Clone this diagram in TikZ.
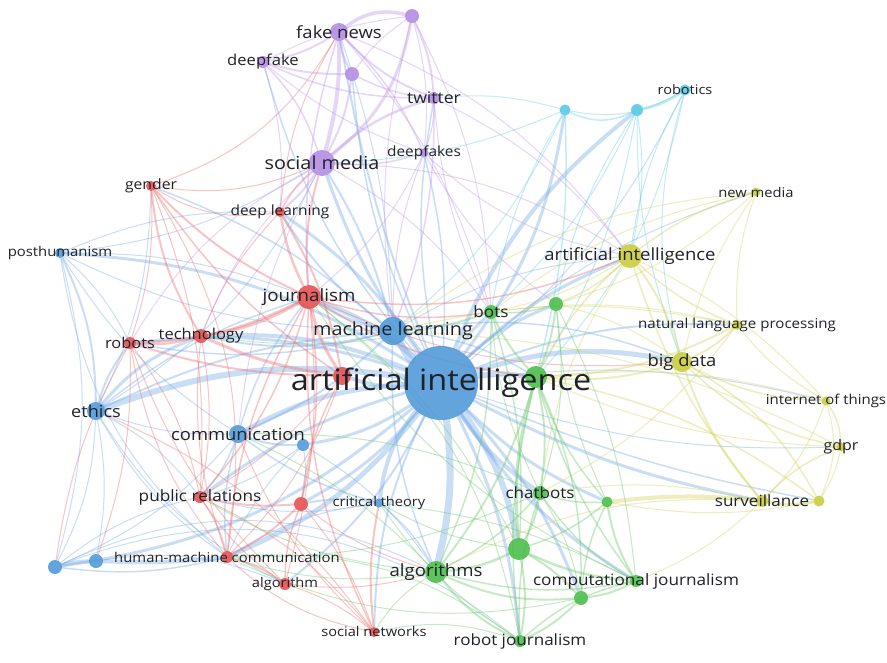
\documentclass[tikz,border=0pt]{standalone}
\usepackage{fontspec}
\setmainfont{Open Sans}[FakeStretch=1.1]
\usetikzlibrary{backgrounds}

\definecolor{nblue}{RGB}{78,152,216}
\definecolor{nred}{RGB}{228,78,78}
\definecolor{ngreen}{RGB}{72,188,72}
\definecolor{nyellow}{RGB}{200,204,56}
\definecolor{npurple}{RGB}{178,138,226}
\definecolor{ncyan}{RGB}{84,200,226}
\definecolor{eblue}{RGB}{120,172,232}
\definecolor{ered}{RGB}{236,112,112}
\definecolor{egreen}{RGB}{112,202,112}
\definecolor{eyellow}{RGB}{212,212,92}
\definecolor{epurple}{RGB}{192,152,234}
\definecolor{ecyan}{RGB}{104,206,232}
\definecolor{ntext}{RGB}{32,34,40}

\begin{document}
\begin{tikzpicture}[x=1pt, y=-1pt,
    dot/.style={circle, inner sep=0pt, minimum size=#1, fill opacity=.88},
    bdot/.style={dot=#1, fill=nblue},
    rdot/.style={dot=#1, fill=nred},
    gdot/.style={dot=#1, fill=ngreen},
    ydot/.style={dot=#1, fill=nyellow},
    pdot/.style={dot=#1, fill=npurple},
    cdot/.style={dot=#1, fill=ncyan},
    lab/.style={text=ntext, inner sep=0pt, font=\fontsize{#1}{#1}\selectfont},
    edge/.style={opacity=.4, line cap=round},
    eb/.style={edge, draw=eblue},
    er/.style={edge, draw=ered},
    eg/.style={edge, draw=egreen},
    ey/.style={edge, draw=eyellow},
    ep/.style={edge, draw=epurple},
    ec/.style={edge, draw=ecyan}
]
    \useasboundingbox (0,0) rectangle (887,662);

    % clusters
    \node[bdot=74pt] (ai) at (441,383) {};
    \node[bdot=28pt] (ml) at (393,331) {};
    \node[bdot=18pt] (ethics) at (96,411) {};
    \node[bdot=18pt] (comm) at (238,434) {};
    \node[bdot=12pt] (bA) at (303,445) {};
    \node[bdot=9pt] (crit) at (379,503) {};
    \node[bdot=10pt] (posthum) at (60,253) {};
    \node[bdot=14pt] (bB) at (55,567) {};
    \node[bdot=14pt] (bC) at (96,561) {};

    \node[rdot=24pt] (journ) at (309,297) {};
    \node[rdot=10pt] (deepl) at (280,212) {};
    \node[rdot=10pt] (gender) at (151,186) {};
    \node[rdot=14pt] (tech) at (201,336) {};
    \node[rdot=12pt] (robots) at (130,343) {};
    \node[rdot=18pt] (rA) at (342,376) {};
    \node[rdot=12pt] (pr) at (200,497) {};
    \node[rdot=14pt] (rB) at (301,504) {};
    \node[rdot=12pt] (hmc) at (227,557) {};
    \node[rdot=12pt] (algorithm) at (285,584) {};
    \node[rdot=10pt] (socnet) at (374,632) {};

    \node[pdot=18pt] (fake) at (339,32) {};
    \node[pdot=14pt] (pA) at (412,16) {};
    \node[pdot=12pt] (deepfake) at (263,62) {};
    \node[pdot=14pt] (pB) at (352,74) {};
    \node[pdot=12pt] (twitter) at (434,98) {};
    \node[pdot=26pt] (social) at (322,163) {};
    \node[pdot=9pt] (deepfakes) at (424,153) {};

    \node[cdot=11pt] (cA) at (565,110) {};
    \node[cdot=12pt] (cB) at (637,110) {};
    \node[cdot=11pt] (robotics) at (685,90) {};

    \node[ydot=9pt] (newmedia) at (756,192) {};
    \node[ydot=24pt] (aiy) at (630,256) {};
    \node[ydot=10pt] (nlp) at (737,325) {};
    \node[ydot=20pt] (bigdata) at (682,362) {};
    \node[ydot=9pt] (iot) at (826,401) {};
    \node[ydot=9pt] (gdpr) at (841,447) {};
    \node[ydot=12pt] (surv) at (762,501) {};
    \node[ydot=11pt] (yB) at (819,501) {};

    \node[gdot=14pt] (bots) at (491,312) {};
    \node[gdot=14pt] (gA) at (556,304) {};
    \node[gdot=22pt] (gC) at (536,377) {};
    \node[gdot=14pt] (chatbots) at (540,493) {};
    \node[gdot=11pt] (gD) at (607,502) {};
    \node[gdot=22pt] (gE) at (519,549) {};
    \node[gdot=22pt] (algorithms) at (436,572) {};
    \node[gdot=12pt] (compj) at (636,581) {};
    \node[gdot=14pt] (gF) at (581,598) {};
    \node[gdot=12pt] (robotj) at (520,641) {};

    % links
    \begin{scope}[on background layer]
    \fill[white] (0,0) rectangle (887,662);
    \foreach \a/\b/\w/\s in {ai/ml/7/10, ai/ethics/6/-14, ai/comm/5/-12, ai/hmc/5/14, ai/crit/4/-15,
        ai/algorithms/7/10, ai/gE/6/12, ai/robotj/3/10, ai/bB/3/16, ai/posthum/3/-14, ai/social/3/8,
        ai/fake/2/6, ai/bigdata/5/14, ai/surv/3/-8, ai/compj/3/-12, ai/bots/3/8, ai/gA/3/10, ai/gC/5/8,
        ai/chatbots/4/-10, ai/gD/3/-10, ai/gF/3/10, ai/aiy/3/10, ai/journ/5/-10, ai/rA/4/10,
        ai/tech/4/-12, ai/robots/3/-12, ai/pr/3/-10, ai/rB/3/10, ai/algorithm/2/12, ai/socnet/2/-12,
        ai/deepl/3/-10, ai/gender/1.5/-12, ai/cA/3/-14, ai/cB/4/14, ai/twitter/1.5/10,
        ai/deepfakes/1.5/-8, ai/pB/1.5/10, ai/deepfake/1.5/12, ai/nlp/2/12, ai/iot/1/10, ai/gdpr/1/-10,
        ai/newmedia/1/12, ai/robotics/1/-12, ai/bA/3/12, ai/yB/1.5/-6,
        ml/journ/3/10, ml/social/2/-8, ml/deepl/2/10, ml/tech/2/12, ml/ethics/2/-10, ml/comm/2/10,
        ml/gC/1.5/12, ml/bigdata/1.5/14, ml/aiy/1/12, ml/robots/1.5/12, ml/algorithms/1.5/-12,
        ml/fake/1/-8, ml/posthum/1/12,
        ethics/robots/2/10, ethics/tech/3/14, ethics/comm/1/-10, ethics/bB/1/12, ethics/bC/1/10,
        ethics/hmc/1/-12, ethics/pr/1/12, ethics/algorithm/1/-15, ethics/journ/1.5/10,
        ethics/social/1/-15, ethics/gender/1/-12,
        comm/bA/2/-10, comm/pr/1.5/10, comm/hmc/1.5/-10, comm/journ/1.5/10,
        comm/bB/1/12, bA/rB/1/10, bA/hmc/1/-10, bA/pr/1/10, bA/algorithms/1/12,
        posthum/ethics/2/12, posthum/robots/1/10, posthum/comm/1/-12,
        posthum/social/1/-12, posthum/deepl/1/12, posthum/hmc/1/-20, posthum/bB/1/15, posthum/journ/1/10,
        bB/bC/4/6, bC/hmc/4/-4, bB/hmc/1.5/-10, bB/pr/1/12, bC/algorithm/1/15,
        bB/algorithms/1/25, bB/robotj/1/30, crit/algorithms/1.5/10, crit/rB/2/-10, crit/comm/1.5/10,
        crit/hmc/1/-12, crit/pr/1/12}
        \draw[eb, line width=\w] (\a) to[bend left=\s] (\b);
    \foreach \a/\b/\w/\s in {journ/deepl/2.5/8, journ/gender/2/10, journ/tech/3/10, journ/robots/2.5/12,
        journ/rA/3/-10, journ/pr/1.5/12, journ/hmc/1.5/-12, journ/algorithm/1/10, journ/socnet/1.5/-14,
        journ/rB/1.5/10, journ/social/2/10, journ/bots/1.5/-12, journ/gC/1.5/-12, journ/aiy/1.5/-14,
        journ/bigdata/1/-14, gender/tech/2/-12, gender/robots/1/10, gender/hmc/1/20, gender/social/1/-15,
        gender/deepl/1/-20, gender/rA/1.5/-10, gender/fake/1/-20, gender/pr/1/12,
        deepl/rA/2/10, deepl/tech/1/-10, deepl/social/1.5/10,
        deepl/fake/1/12, tech/robots/2/10, tech/rA/3/-8, tech/pr/1/10, tech/hmc/1/-12, robots/pr/1/12,
        robots/hmc/1/-14, robots/rA/2/-8, robots/algorithm/1/-12, robots/bB/1/-10, robots/bC/1/10,
        rA/pr/1/10, rA/rB/1.5/-10, rA/hmc/1/12, pr/rB/2/-8,
        pr/hmc/1.5/10, pr/algorithm/1/-10, pr/socnet/1/12, rB/hmc/2/8, rB/algorithm/1.5/-10,
        rB/socnet/1/10, rB/algorithms/1/-10, hmc/algorithm/2/10, hmc/socnet/1/-15,
        algorithm/socnet/1/10, algorithm/algorithms/1/-10, socnet/crit/2/8, socnet/comm/1/12,
        socnet/ethics/1/-15}
        \draw[er, line width=\w] (\a) to[bend left=\s] (\b);
    \foreach \a/\b/\w/\s in {fake/pA/3.5/25, fake/deepfake/2/10, fake/social/4/8, fake/pB/2/-10,
        fake/twitter/2/-12, fake/deepfakes/1.5/10, fake/journ/1.5/-10, fake/aiy/1/15, fake/bots/1/12,
        pA/social/3/20, pA/twitter/2/10, pA/ml/1/-10, pA/bots/1/12,
        pA/deepfakes/1/10, pA/pB/1/-10, pA/deepfake/1/-10, deepfake/pB/2/-8, deepfake/twitter/1.5/-12,
        deepfake/social/1.5/12, deepfake/deepfakes/1/-10, deepfake/deepl/1/10, pB/social/2/10,
        pB/twitter/1.5/-10, twitter/social/2.5/-12, twitter/deepfakes/1/10, twitter/bots/1/-10,
        twitter/ml/1.5/10, twitter/aiy/1/12, social/deepfakes/1.5/-10, social/deepl/2/8,
        social/tech/1/-12, social/robots/1/-15, social/aiy/1/15, social/bots/1/12, social/comm/1/-10,
        deepfakes/ml/1/-10, deepfakes/journ/1/12, deepfakes/gA/1/-12, deepfakes/aiy/1/-15}
        \draw[ep, line width=\w] (\a) to[bend left=\s] (\b);
    \foreach \a/\b/\w/\s in {cB/robotics/3/-10, cA/cB/1.5/-25, cA/robotics/1/-20, cB/gC/1/10,
        cB/gA/1/-10, robotics/bigdata/1/-15, cA/social/1/10, cA/twitter/1/-10, cB/aiy/1/10, cA/ml/1/12,
        cA/gC/1.5/8, cA/bots/1/-10, cB/bots/1/10, cB/bigdata/1/-10, robotics/aiy/1/-10,
        robotics/gC/1/15}
        \draw[ec, line width=\w] (\a) to[bend left=\s] (\b);
    \foreach \a/\b/\w/\s in {aiy/newmedia/1.5/10, aiy/nlp/1.5/-10, aiy/bigdata/2/10, aiy/surv/1.5/-10,
        aiy/iot/1/10, aiy/gA/1.5/10, aiy/bots/1/10, aiy/gC/1.5/-10, aiy/chatbots/1/-12,
        bigdata/nlp/2/-10, bigdata/iot/1.5/-12, bigdata/gdpr/1.5/-15, bigdata/surv/2/-10,
        bigdata/yB/1.5/15, bigdata/newmedia/1/10, bigdata/gC/2/10, bigdata/gA/1/-10, nlp/gC/2/12,
        nlp/iot/1/-10, nlp/bots/1/-10, nlp/chatbots/1/12, nlp/ml/1/-12,
        newmedia/nlp/1/-10, newmedia/bots/1/-12, newmedia/ml/1/-15,
        surv/yB/3/-10, surv/gdpr/1.5/12, surv/iot/1/-12, gdpr/iot/1.5/-15,
        gdpr/yB/1/10, iot/yB/1/20, iot/gC/1/-10, gdpr/gC/1/10, gdpr/ml/1/-12, yB/gC/1.5/-12,
        yB/gD/1/10, newmedia/gA/1/12, surv/gD/4/-6, surv/chatbots/1/-10,
        surv/compj/1/10, surv/algorithms/1/-15}
        \draw[ey, line width=\w] (\a) to[bend left=\s] (\b);
    \foreach \a/\b/\w/\s in {gC/bots/2/8, gC/gA/2/-8, gC/chatbots/2/10, gC/gE/3/-10, gC/algorithms/2/10,
        gC/compj/1.5/-10, gC/gD/1.5/-10, gC/gF/1.5/12, gC/robotj/1.5/-10, bots/gA/1.5/-10,
        bots/algorithms/1.5/12, bots/chatbots/1/-10, bots/gE/1.5/10, bots/tech/1/12, bots/ml/1/8,
        gA/chatbots/1/12, gA/gD/1/-10, gA/compj/1/10, chatbots/gE/2/10, chatbots/gD/1.5/-10,
        chatbots/algorithms/1.5/10, chatbots/robotj/1.5/-10, chatbots/compj/1.5/-12, chatbots/gF/1/10,
        chatbots/hmc/1/12, chatbots/comm/1/-12,
        gD/compj/2/-10, gD/gE/1.5/10, gD/gF/1.5/-10, gE/algorithms/2.5/10, gE/compj/2.5/-10,
        gE/gF/2/8, gE/robotj/2/10, gE/crit/1/10, gE/journ/1/-12,
        algorithms/robotj/2/-12, algorithms/gF/2/-14,
        algorithms/compj/1.5/-12, compj/gF/2/10, compj/robotj/1.5/-14, compj/crit/1/-10,
        compj/journ/1/15, gF/robotj/2/10, gF/hmc/1/18,
        algorithms/hmc/1/12, algorithms/pr/1/12, algorithms/comm/1/-10, algorithms/socnet/1/-12,
        robotj/socnet/1/-15, robotj/hmc/1/-20, robotj/journ/1/-20, robotj/crit/1/10}
        \draw[eg, line width=\w] (\a) to[bend left=\s] (\b);
    \end{scope}

    % labels
    \node[lab=29.5] (ai-l) at (ai) {artificial intelligence};
    \foreach \n/\f/\t in {fake/16.8/fake news, social/18/social media, journ/17/journalism,
        ml/18/machine learning, aiy/16.8/artificial intelligence, algorithms/16.9/algorithms,
        ethics/16.5/ethics, comm/16.7/communication, bigdata/16.7/big data,
        compj/15.6/computational journalism, robotj/15.5/robot journalism, chatbots/15.5/chatbots,
        surv/15.5/surveillance, bots/15.6/bots, twitter/16/twitter, pr/15.6/public relations,
        deepfake/15.1/deepfake, tech/15/technology, robots/14.9/robots,
        deepfakes/14/deepfakes, gender/14.3/gender, deepl/14/deep learning, posthum/13.5/posthumanism,
        algorithm/13.3/algorithm, newmedia/13.4/new media, robotics/13.2/robotics,
        iot/13.6/internet of things, gdpr/14.5/gdpr, nlp/13.7/natural language processing,
        hmc/13.5/human-machine communication, crit/13.3/critical theory, socnet/13.3/social networks}
        \node[lab=\f] (\n-l) at (\n) {\t};
\end{tikzpicture}
\end{document}
